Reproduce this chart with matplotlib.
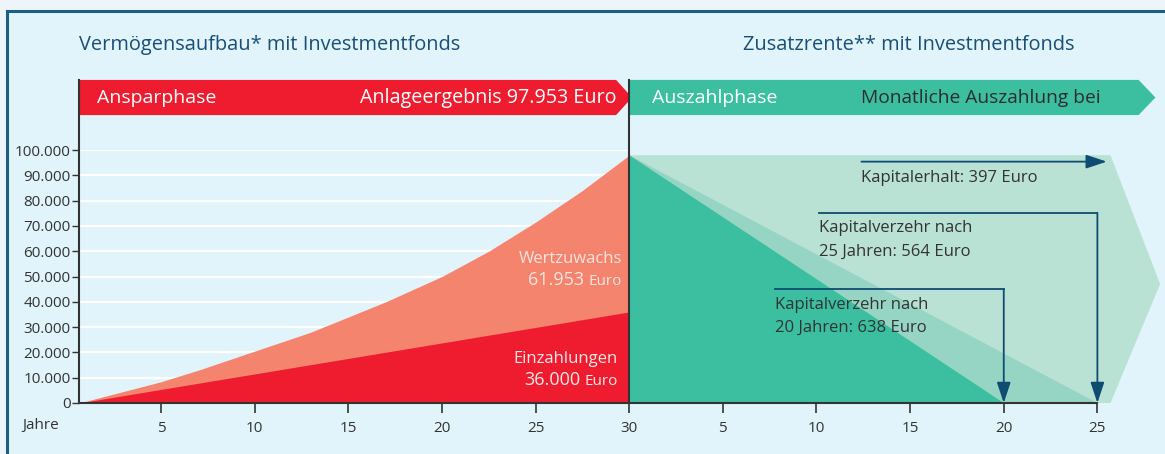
import numpy as np
import matplotlib.pyplot as plt
from matplotlib.patches import Rectangle
from matplotlib.lines import Line2D

plt.rcParams['font.family'] = ['Open Sans', 'DejaVu Sans']

# Ansparphase (Jahre 0..30)
spar_jahre = [0.62, 5, 7, 10, 13, 15, 17, 20, 22.5, 25, 27.5, 30]
spar_gesamt = [0, 8400, 13000, 20500, 28000, 34000, 40000, 50000, 60000, 71500, 84000, 97953]
einz_jahre = [0.62, 30]
einz_werte = [0, 36000]

# Auszahlphase (Jahre nach Rentenbeginn)
start_kapital = 97953
verzehr_20 = 20
verzehr_25 = 25
erhalt_ende = 25.7
erhalt_spitze = 28.35
erhalt_spitze_wert = 47000

x_ticks = [5, 10, 15, 20, 25, 30, 35, 40, 45, 50, 55]
x_labels = ['5', '10', '15', '20', '25', '30', '5', '10', '15', '20', '25']
y_ticks = list(range(0, 100001, 10000))

# farben
bg = '#e1f4fb'
rot = '#ee1c2e'
lachs = '#f5846e'
gruen = '#3bbfa0'
gruen_mittel = '#96d5c3'
gruen_hell = '#bae2d4'
blau = '#0f4c72'
grau = '#333333'

W, H = 1165, 454
fig = plt.figure(figsize=(W / 100, H / 100), dpi=100)
fig.patch.set_facecolor('#edf5fa')

# rahmen
fig.add_artist(Rectangle((7 / W, 0), 1, 1 - 11 / H, transform=fig.transFigure,
                         facecolor=bg, edgecolor='none', zorder=0))
fig.add_artist(Line2D([7 / W, 7 / W], [0, 1 - 11 / H], transform=fig.transFigure, color='#1b5d85', lw=2.2))
fig.add_artist(Line2D([7 / W, 1], [1 - 11 / H, 1 - 11 / H], transform=fig.transFigure, color='#1b5d85', lw=2.2))

ax = fig.add_axes([79 / W, 1 - 403 / H, (W - 79) / W, 253 / H])
ax.set_facecolor('none')
x0, x1 = 0.62, 58.61
ax.set_xlim(x0, x1)
ax.set_ylim(0, 100000)

# gitterlinien
ax.hlines(y_ticks[1:], x0, 30, color='white', lw=1.6, zorder=1)

# ansparphase
ax.fill_between(spar_jahre, 0, spar_gesamt, color=lachs, lw=0, zorder=2)
ax.fill_between(einz_jahre, 0, einz_werte, color=rot, lw=0, zorder=3)

# auszahlphase
ax.fill([30, 30, 30 + erhalt_ende, 30 + erhalt_spitze, 30 + erhalt_ende],
        [0, start_kapital, start_kapital, erhalt_spitze_wert, 0],
        color=gruen_hell, lw=0, zorder=2, clip_on=False)
ax.fill([30, 30, 30 + verzehr_25], [0, start_kapital, 0], color=gruen_mittel, lw=0, zorder=3)
ax.fill([30, 30, 30 + verzehr_20], [0, start_kapital, 0], color=gruen, lw=0, zorder=4)

# banner
b_top, b_bot = 127700, 113800
b_mid = (b_top + b_bot) / 2
ax.fill([x0, 29.3, 30.15, 29.3, x0], [b_top, b_top, b_mid, b_bot, b_bot],
        color=rot, lw=0, clip_on=False, zorder=2)
ax.fill([30, 57.2, 58.1, 57.2, 30], [b_top, b_top, b_mid, b_bot, b_bot],
        color=gruen, lw=0, clip_on=False, zorder=2)
ax.text(1.58, b_mid, 'Ansparphase', color='white', fontsize=14, va='center', ha='left')
ax.text(29.3, b_mid, 'Anlageergebnis 97.953 Euro', color='white', fontsize=14.2, va='center', ha='right')
ax.text(31.2, b_mid, 'Auszahlphase', color='white', fontsize=14, va='center', ha='left')
ax.text(42.4, b_mid, 'Monatliche Auszahlung bei', color='#2d2d2d', fontsize=13.8, va='center', ha='left')

# achsen
for s in ['top', 'right']:
    ax.spines[s].set_visible(False)
ax.spines['left'].set_visible(False)
ax.spines['bottom'].set_bounds(x0, 55)
ax.spines['bottom'].set_color(grau)
ax.spines['bottom'].set_linewidth(1.5)
ax.spines['bottom'].set_zorder(6)
ax.plot([x0, x0], [0, b_top], color=grau, lw=1.5, clip_on=False, zorder=6)
ax.plot([30, 30], [0, b_top], color=grau, lw=1.5, clip_on=False, zorder=6)

ax.set_yticks(y_ticks)
ax.set_yticklabels([f'{v:,}'.replace(',', '.') for v in y_ticks])
ax.set_xticks(x_ticks)
ax.set_xticklabels(x_labels)
ax.tick_params(axis='y', direction='out', length=5, width=1, color=grau, labelcolor=grau,
               labelsize=11, pad=1)
ax.tick_params(axis='x', direction='out', length=7, width=1.2, color=grau, labelcolor=grau,
               labelsize=11, pad=6)
fig.text(22 / W, 1 - 425 / H, 'Jahre', color=grau, fontsize=11, va='center', ha='left')

# titel
fig.text(79 / W, 1 - 45 / H, 'Vermögensaufbau* mit Investmentfonds', color='#1a4f75',
         fontsize=14.4, va='center', ha='left')
fig.text(743 / W, 1 - 45 / H, 'Zusatzrente** mit Investmentfonds', color='#1a4f75',
         fontsize=14.4, va='center', ha='left')

# beschriftung der flaechen
def betrag_label(x, y, zahl, farbe):
    euro = ax.text(x, y, 'Euro', color=farbe, fontsize=11, ha='right', va='baseline', zorder=7)
    ax.annotate(zahl, xy=(0, y), xycoords=(euro, 'data'), xytext=(-3, 0),
                textcoords='offset points', color=farbe, fontsize=13, ha='right',
                va='baseline', zorder=7)

ax.text(29.6, 55300, 'Wertzuwachs', color='#fde4df', fontsize=12, ha='right', va='baseline', zorder=7)
betrag_label(29.6, 46600, '61.953', '#fde4df')
ax.text(29.4, 15800, 'Einzahlungen', color='#fde8e8', fontsize=12, ha='right', va='baseline', zorder=7)
betrag_label(29.4, 7100, '36.000', '#fde8e8')

# pfeile
pfeil = dict(arrowstyle='-|>,head_length=0.9,head_width=0.3', color=blau, lw=1.3,
             shrinkA=0, shrinkB=0, mutation_scale=14)
ax.annotate('', xy=(55.5, 95400), xytext=(42.4, 95400), arrowprops=pfeil, zorder=8,
            annotation_clip=False)
ax.text(42.4, 88900, 'Kapitalerhalt: 397 Euro', color=grau, fontsize=12, va='center', zorder=8)

ax.plot([40.15, 30 + verzehr_25], [75200, 75200], color=blau, lw=1.3, zorder=8)
ax.annotate('', xy=(30 + verzehr_25, 0), xytext=(30 + verzehr_25, 75200), arrowprops=pfeil, zorder=8)
ax.text(40.15, 69200, 'Kapitalverzehr nach', color=grau, fontsize=12, va='center', zorder=8)
ax.text(40.15, 59900, '25 Jahren: 564 Euro', color=grau, fontsize=12, va='center', zorder=8)

ax.plot([37.8, 30 + verzehr_20], [44900, 44900], color=blau, lw=1.3, zorder=8)
ax.annotate('', xy=(30 + verzehr_20, 0), xytext=(30 + verzehr_20, 44900), arrowprops=pfeil, zorder=8)
ax.text(37.8, 38900, 'Kapitalverzehr nach', color=grau, fontsize=12, va='center', zorder=8)
ax.text(37.8, 29600, '20 Jahren: 638 Euro', color=grau, fontsize=12, va='center', zorder=8)

fig.savefig('out.png', dpi=100, facecolor=fig.get_facecolor())
